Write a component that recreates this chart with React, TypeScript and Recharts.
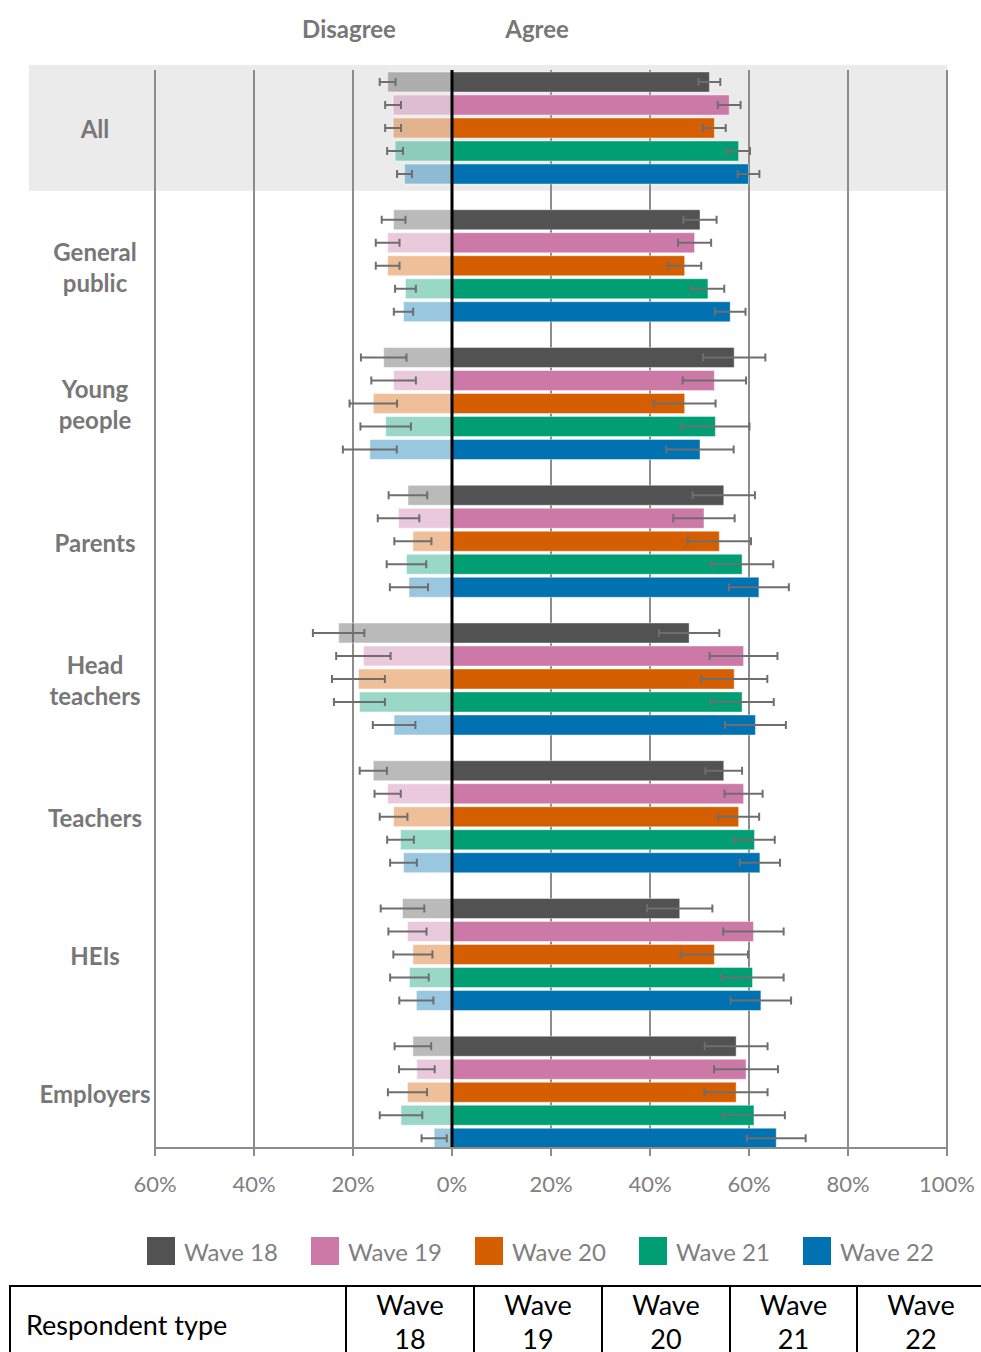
import React from "react";
import {
  BarChart,
  Bar,
  XAxis,
  YAxis,
  CartesianGrid,
  ReferenceLine,
  ReferenceArea,
  ErrorBar,
} from "recharts";

const GROUPS = [
  "All",
  "General public",
  "Young people",
  "Parents",
  "Head teachers",
  "Teachers",
  "HEIs",
  "Employers",
];

const WAVES = ["Wave 18", "Wave 19", "Wave 20", "Wave 21", "Wave 22"];
const WAVE_COLORS = ["#525252", "#CC79A7", "#D55E00", "#009E73", "#0072B2"];

// % agreeing per wave, in GROUPS order
const AGREE_W18 = [52.0, 50.1, 57.0, 54.9, 47.9, 54.9, 46.0, 57.4];
const AGREE_W19 = [56.0, 49.0, 53.0, 50.9, 58.9, 58.9, 60.9, 59.4];
const AGREE_W20 = [53.0, 47.0, 47.0, 54.0, 57.0, 57.9, 53.0, 57.4];
const AGREE_W21 = [57.9, 51.7, 53.2, 58.6, 58.6, 61.1, 60.7, 61.0];
const AGREE_W22 = [59.9, 56.2, 50.1, 62.0, 61.3, 62.2, 62.4, 65.5];

// % disagreeing per wave (drawn to the left of zero)
const DISAGREE_W18 = [13.0, 11.8, 13.8, 8.9, 22.9, 15.9, 10.0, 7.9];
const DISAGREE_W19 = [11.9, 13.0, 11.8, 10.8, 17.9, 13.0, 9.0, 7.1];
const DISAGREE_W20 = [11.9, 13.0, 15.9, 7.9, 18.9, 11.8, 7.9, 9.0];
const DISAGREE_W21 = [11.5, 9.4, 13.4, 9.2, 18.7, 10.4, 8.6, 10.3];
const DISAGREE_W22 = [9.6, 9.8, 16.6, 8.7, 11.7, 9.8, 7.2, 3.6];

// confidence interval half-widths
const AGREE_ERR_W18 = [2.2, 3.35, 6.3, 6.3, 6.1, 3.7, 6.6, 6.35];
const AGREE_ERR_W19 = [2.3, 3.35, 6.4, 6.2, 6.85, 3.85, 6.1, 6.45];
const AGREE_ERR_W20 = [2.3, 3.35, 6.25, 6.4, 6.7, 4.15, 6.8, 6.35];
const AGREE_ERR_W21 = [2.3, 3.3, 6.9, 6.3, 6.4, 4.1, 6.3, 6.25];
const AGREE_ERR_W22 = [2.2, 3.1, 6.8, 6.05, 6.15, 4.05, 6.1, 5.95];

const DISAGREE_ERR_W18 = [1.6, 2.4, 4.6, 3.9, 5.2, 2.75, 4.4, 3.7];
const DISAGREE_ERR_W19 = [1.6, 2.4, 4.5, 4.2, 5.5, 2.65, 3.85, 3.6];
const DISAGREE_ERR_W20 = [1.6, 2.4, 4.8, 3.75, 5.35, 2.8, 3.95, 3.95];
const DISAGREE_ERR_W21 = [1.6, 2.1, 5.1, 4.0, 5.15, 2.7, 3.9, 4.3];
const DISAGREE_ERR_W22 = [1.5, 1.95, 5.45, 3.85, 4.3, 2.7, 3.45, 2.55];

const X_TICKS = [-60, -40, -20, 0, 20, 40, 60, 80, 100];

const AGREE = [AGREE_W18, AGREE_W19, AGREE_W20, AGREE_W21, AGREE_W22];
const DISAGREE = [DISAGREE_W18, DISAGREE_W19, DISAGREE_W20, DISAGREE_W21, DISAGREE_W22];
const AGREE_ERR = [AGREE_ERR_W18, AGREE_ERR_W19, AGREE_ERR_W20, AGREE_ERR_W21, AGREE_ERR_W22];
const DISAGREE_ERR = [
  DISAGREE_ERR_W18,
  DISAGREE_ERR_W19,
  DISAGREE_ERR_W20,
  DISAGREE_ERR_W21,
  DISAGREE_ERR_W22,
];

const rows = GROUPS.map((group, g) => {
  const row: Record<string, string | number> = { group };
  WAVES.forEach((_, w) => {
    row[`agree${w}`] = AGREE[w][g];
    row[`agreeErr${w}`] = AGREE_ERR[w][g];
    row[`disagree${w}`] = -DISAGREE[w][g];
    row[`disagreeErr${w}`] = DISAGREE_ERR[w][g];
  });
  return row;
});

const FONT = "Lato, 'Open Sans', sans-serif";
const LABEL_GREY = "#777777";
const GRID_GREY = "#8c8c8c";
const ERR_GREY = "#6e6e6e";

// category bands run a little past the gridlines at both ends
const Y_PAD = { top: -11, bottom: -13 };
const LABEL_X = 95;
const BAND_LEFT = 29;
const BAND_INSET = 6;

const LEGEND_LEFT = 147;
const LEGEND_STEP = 164;
const TABLE_COLS = [336, 128, 128, 128, 127, 128];

function GroupTick({ y, payload }: any) {
  const lines = String(payload.value).split(" ");
  const lineHeight = 31;
  const top = y + 2 - ((lines.length - 1) * lineHeight) / 2;
  return (
    <text textAnchor="middle" fill={LABEL_GREY} fontSize={24} fontWeight={700} fontFamily={FONT}>
      {lines.map((line, i) => (
        <tspan key={i} x={LABEL_X} y={top + i * lineHeight} dy="0.35em">
          {line}
        </tspan>
      ))}
    </text>
  );
}

// grey band behind the "All" group, stretched left under its label
function BandShape({ x, y, width, height }: any) {
  return (
    <rect
      x={BAND_LEFT}
      y={y + BAND_INSET}
      width={x + width - BAND_LEFT}
      height={height - 2 * BAND_INSET}
      fill="#ebebeb"
    />
  );
}

const headerStyle: React.CSSProperties = {
  position: "absolute",
  top: 28,
  transform: "translate(-50%, -50%)",
  color: LABEL_GREY,
  fontWeight: 700,
  fontSize: 24,
};

export default function App() {
  return (
    <div
      style={{
        position: "absolute",
        left: 0,
        top: 0,
        width: 981,
        height: 1352,
        overflow: "hidden",
        background: "#fff",
        fontFamily: FONT,
      }}
    >
      <div style={{ ...headerStyle, left: 349 }}>Disagree</div>
      <div style={{ ...headerStyle, left: 537 }}>Agree</div>

      <BarChart
        width={981}
        height={1208}
        data={rows}
        layout="vertical"
        barSize={20}
        barGap={3}
        margin={{ top: 70, right: 34, bottom: 0, left: 0 }}
      >
        <ReferenceArea y1="All" y2="All" ifOverflow="visible" shape={BandShape} zIndex={-200} />
        <CartesianGrid horizontal={false} stroke={GRID_GREY} strokeWidth={2} />
        <XAxis
          type="number"
          domain={[-60, 100]}
          ticks={X_TICKS}
          interval={0}
          tickFormatter={(v: number) => `${Math.abs(v)}%`}
          axisLine={{ stroke: GRID_GREY, strokeWidth: 2 }}
          tickLine={{ stroke: GRID_GREY, strokeWidth: 2 }}
          tickSize={8}
          tickMargin={20}
          height={60}
          tick={{ fill: "#808080", fontSize: 22, fontFamily: FONT }}
        />
        <YAxis
          type="category"
          dataKey="group"
          width={155}
          padding={Y_PAD}
          axisLine={false}
          tickLine={false}
          tick={<GroupTick />}
          interval={0}
        />
        <YAxis yAxisId="disagree" type="category" dataKey="group" hide padding={Y_PAD} />

        {WAVES.map((wave, w) => (
          <Bar
            key={`disagree-${wave}`}
            yAxisId="disagree"
            dataKey={`disagree${w}`}
            name={wave}
            fill={WAVE_COLORS[w]}
            fillOpacity={0.4}
            stroke="#ffffff"
            strokeOpacity={0.5}
            isAnimationActive={false}
          >
            <ErrorBar dataKey={`disagreeErr${w}`} direction="x" width={4} stroke={ERR_GREY} strokeWidth={2} />
          </Bar>
        ))}
        {WAVES.map((wave, w) => (
          <Bar
            key={`agree-${wave}`}
            dataKey={`agree${w}`}
            name={wave}
            fill={WAVE_COLORS[w]}
            stroke="#ffffff"
            strokeOpacity={0.4}
            isAnimationActive={false}
          >
            <ErrorBar dataKey={`agreeErr${w}`} direction="x" width={4} stroke={ERR_GREY} strokeWidth={2} />
          </Bar>
        ))}

        <ReferenceLine x={0} stroke="#000000" strokeWidth={3} />
      </BarChart>

      {WAVES.map((wave, w) => (
        <div
          key={wave}
          style={{
            position: "absolute",
            left: LEGEND_LEFT + w * LEGEND_STEP,
            top: 1237,
            display: "flex",
            alignItems: "center",
            height: 28,
          }}
        >
          <span style={{ width: 28, height: 28, background: WAVE_COLORS[w], display: "inline-block" }} />
          <span style={{ marginLeft: 9, fontSize: 24, color: "#7f7f7f" }}>{wave}</span>
        </div>
      ))}

      <table
        style={{
          position: "absolute",
          left: 9,
          top: 1285,
          width: TABLE_COLS.reduce((a, b) => a + b, 0),
          borderCollapse: "collapse",
          fontSize: 27,
          color: "#000",
          tableLayout: "fixed",
        }}
      >
        <colgroup>
          {TABLE_COLS.map((w, i) => (
            <col key={i} style={{ width: w }} />
          ))}
        </colgroup>
        <tbody>
          <tr>
            <td
              style={{
                height: 74,
                border: "2px solid #000",
                padding: "0 0 0 15px",
                verticalAlign: "middle",
              }}
            >
              Respondent type
            </td>
            {WAVES.map((wave) => {
              const [word, num] = wave.split(" ");
              return (
                <td
                  key={wave}
                  style={{
                    border: "2px solid #000",
                    textAlign: "center",
                    verticalAlign: "top",
                    lineHeight: "34px",
                    padding: "1px 0 0 0",
                  }}
                >
                  {word}
                  <br />
                  {num}
                </td>
              );
            })}
          </tr>
        </tbody>
      </table>
    </div>
  );
}
